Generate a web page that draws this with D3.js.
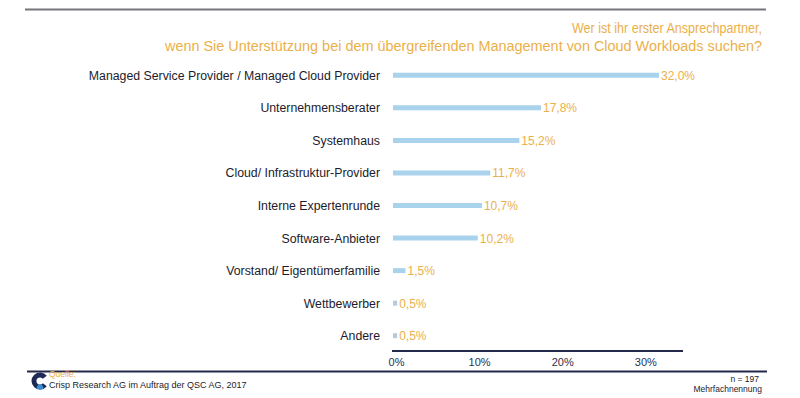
<!DOCTYPE html>
<html><head><meta charset="utf-8">
<script src="https://cdn.jsdelivr.net/npm/d3@7"></script>
<style>body{margin:0;background:#fff}svg{display:block}</style>
</head><body>
<svg id="c" width="800" height="398"></svg>
<script>
const categories = ["Managed Service Provider / Managed Cloud Provider","Unternehmensberater","Systemhaus","Cloud/ Infrastruktur-Provider","Interne Expertenrunde","Software-Anbieter","Vorstand/ Eigentümerfamilie","Wettbewerber","Andere"];
const values = [32.0,17.8,15.2,11.7,10.7,10.2,1.5,0.5,0.5];
const tickValues = [0,10,20,30];
const titleLines = ["Wer ist ihr erster Ansprechpartner,","wenn Sie Unterstützung bei dem übergreifenden Management von Cloud Workloads suchen?"];
const titleWidths = [190,597];

const svg = d3.select("#c");
const font = "Liberation Sans, Arial, sans-serif";
const orange = "#ebb04a";
const x = d3.scaleLinear().domain([0,32]).range([393,659]);
const y = d3.scaleBand().domain(categories).range([59,352]).paddingInner(0);
const fmt = v => d3.format(".1f")(v).replace(".", ",") + "%";

// top rule
svg.append("line").attr("x1",25).attr("x2",766).attr("y1",9.5).attr("y2",9.5).attr("stroke","#74747e").attr("stroke-width",2.2);

// title
svg.selectAll("text.title").data(titleLines).join("text")
  .attr("x",762).attr("y",(d,i)=>33+i*18).attr("text-anchor","end")
  .attr("textLength",(d,i)=>titleWidths[i]).attr("lengthAdjust","spacingAndGlyphs")
  .attr("font-family",font).attr("font-size",14).attr("fill",orange).text(d=>d);

// bars
const g = svg.append("g");
g.selectAll("line.bar").data(values).join("line")
  .attr("x1",x(0)).attr("x2",(d)=>Math.max(x(d),x(0)+4))
  .attr("y1",(d,i)=>y(categories[i])+y.bandwidth()/2).attr("y2",(d,i)=>y(categories[i])+y.bandwidth()/2)
  .attr("stroke",(d)=> d<1 ? "#b4cbe0" : "#a9d2ec").attr("stroke-width",5);

g.selectAll("text.val").data(values).join("text")
  .attr("x",d=>Math.max(x(d),x(0)+4)+2).attr("y",(d,i)=>y(categories[i])+y.bandwidth()/2+4.5)
  .attr("font-family",font).attr("font-size",12).attr("fill",orange).text(fmt);

g.selectAll("text.cat").data(categories).join("text")
  .attr("x",380).attr("y",d=>y(d)+y.bandwidth()/2+4.5).attr("text-anchor","end")
  .attr("font-family",font).attr("font-size",12.3).attr("fill","#1c1c2c").text(d=>d);

// axis
const axis = svg.append("g").attr("transform","translate(0,351)")
  .call(d3.axisBottom(x).tickValues(tickValues).tickSize(0).tickPadding(7).tickFormat(d=>d+"%"));
axis.select(".domain").attr("d",`M392,0H683`).attr("stroke","#23294a").attr("stroke-width",2);
axis.selectAll(".tick text").attr("font-family",font).attr("font-size",11).attr("fill","#2a3050").attr("dx",3);

// bottom rule
svg.append("line").attr("x1",27).attr("x2",767).attr("y1",371.5).attr("y2",371.5).attr("stroke","#23294a").attr("stroke-width",2);

// logo
const lg = svg.append("g").attr("transform","translate(40,381)");
lg.append("path").attr("d",d3.arc().innerRadius(3.6).outerRadius(8.5).startAngle(Math.PI/2+0.65).endAngle(Math.PI*2.5-0.65)())
  .attr("fill","#1e2a55");
lg.append("path").attr("d",d3.arc().innerRadius(3.6).outerRadius(8.5).startAngle(Math.PI*0.85).endAngle(Math.PI*1.15)())
  .attr("fill","#3b8fd0");

svg.append("text").attr("x",49).attr("y",377).attr("font-family",font).attr("font-size",8.5).attr("fill",orange).text("Quelle:");
svg.append("text").attr("x",49).attr("y",387.5).attr("font-family",font).attr("font-size",9).attr("fill","#1c1c2c").text("Crisp Research AG im Auftrag der QSC AG, 2017");
svg.append("text").attr("x",759).attr("y",381.5).attr("text-anchor","end").attr("font-family",font).attr("font-size",8.5).attr("fill","#1c1c2c").text("n = 197");
svg.append("text").attr("x",762).attr("y",392).attr("text-anchor","end").attr("font-family",font).attr("font-size",8.5).attr("fill","#1c1c2c").text("Mehrfachnennung");
</script>
</body></html>
